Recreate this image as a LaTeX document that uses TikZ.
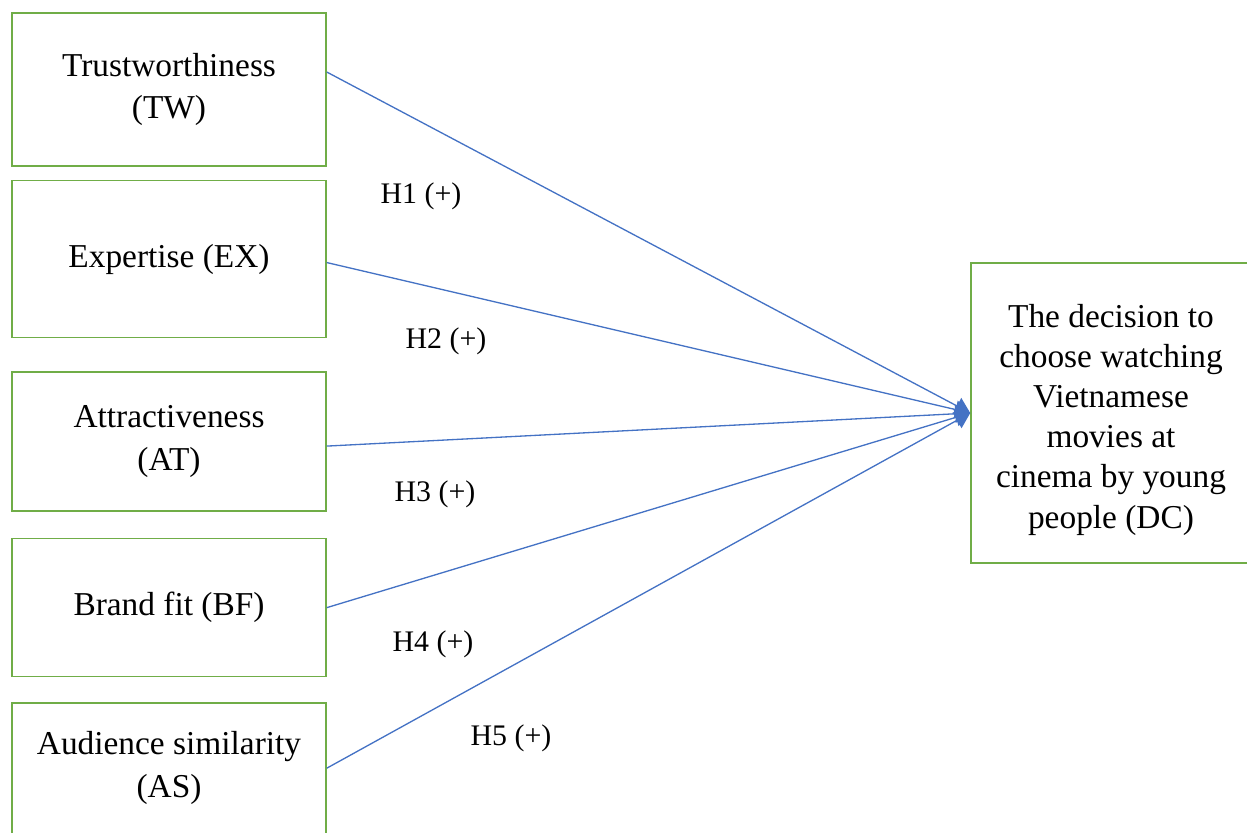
\documentclass[tikz,border=0pt]{standalone}
\usepackage{fontspec}
\setmainfont{Liberation Serif}
\usetikzlibrary{arrows.meta, positioning}
\definecolor{boxgreen}{HTML}{70AD47}
\definecolor{lineblue}{HTML}{4472C4}

\begin{document}
\begin{tikzpicture}[
  x=0.02cm, y=-0.02cm,
  box/.style={rectangle, draw=boxgreen, line width=0.9pt, minimum width=6.28cm, align=center, font=\fontsize{19}{24.4}\selectfont},
  boxtext/.style={align=center, font=\fontsize{19}{24.4}\selectfont},
  arrow/.style={-{Triangle[length=0.3cm, width=0.36cm]}, line width=0.75pt, color=lineblue},
  hyp/.style={font=\fontsize{17}{20}\selectfont}
]
  \useasboundingbox (0,0) rectangle (1247,832);

  % independent variables
  \node[box, minimum height=3.06cm] (tw) at (169,89.5) {Trustworthiness\\(TW)};
  \node[box, minimum height=3.14cm, below=0.26cm of tw] (ex) {Expertise (EX)};
  \node[box, minimum height=2.78cm, below=0.66cm of ex] (at) {Attractiveness\\(AT)};
  \node[box, minimum height=2.76cm, below=0.52cm of at] (bf) {Brand fit (BF)};
  \node[box, minimum height=3.6cm, below=0.5cm of bf] (as) {};
  \node[boxtext] (astext) at (169,768) {Audience similarity\\(AS)};

  % dependent variable
  \node[box, minimum width=5.6cm, minimum height=6cm, font=\fontsize{19}{22.8}\selectfont] (dc) at (1111,413)
    {\rule{0pt}{21pt}The decision to\\choose watching\\Vietnamese\\movies at\\cinema by young\\people (DC)};

  \draw[arrow] ([yshift=0.35cm]tw.east) -- (dc.west);
  \draw[arrow] ([yshift=-0.07cm]ex.east) -- (dc.west);
  \draw[arrow] ([yshift=-0.09cm]at.east) -- (dc.west);
  \draw[arrow] (bf.east) -- (dc.west);
  \draw[arrow] ([yshift=0.5cm]as.east) -- (dc.west);

  % hypotheses
  \node[hyp] (h1) at (421,196) {H1 (+)};
  \node[hyp] (h2) at (446,341) {H2 (+)};
  \node[hyp] (h3) at (435,494) {H3 (+)};
  \node[hyp] (h4) at (433,644) {H4 (+)};
  \node[hyp] (h5) at (511,738) {H5 (+)};
\end{tikzpicture}
\end{document}
